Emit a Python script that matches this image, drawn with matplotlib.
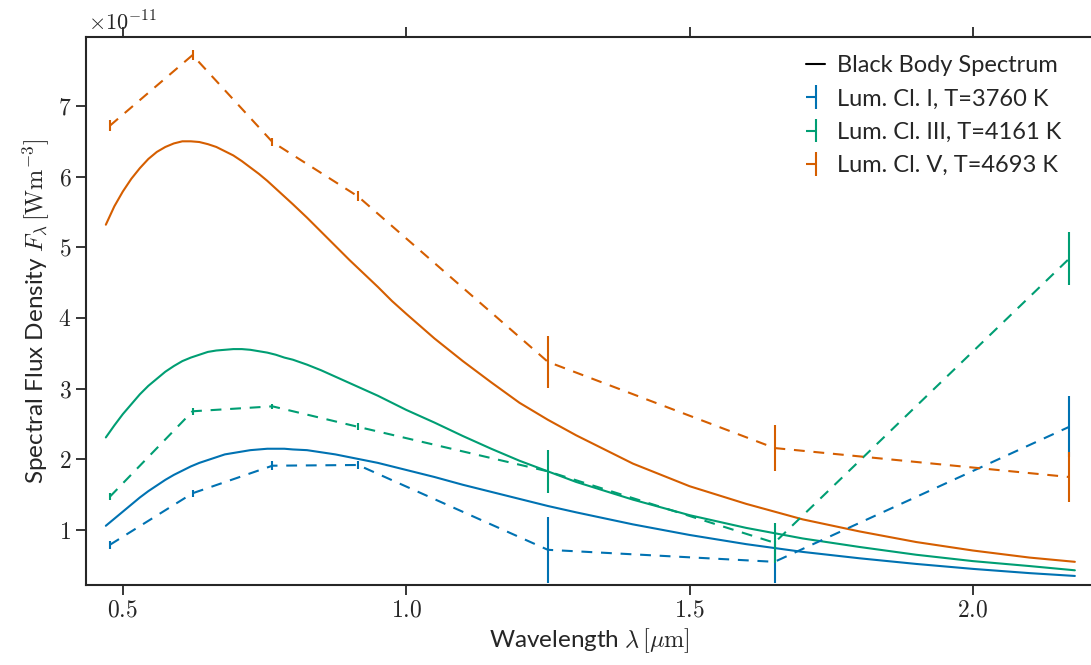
import matplotlib
matplotlib.use("Agg")
import matplotlib.pyplot as plt
import numpy as np
import seaborn as sns
from matplotlib.ticker import FuncFormatter, FixedLocator

# Photometric band centres [micron] and measured flux densities [1e-11 W m^-3]
bands = [0.477, 0.623, 0.764, 0.915, 1.25, 1.65, 2.17]

flux_I = [0.79, 1.52, 1.91, 1.92, 0.72, 0.55, 2.46]
err_I = [0.06, 0.05, 0.06, 0.05, 0.47, 0.30, 0.43]

flux_III = [1.47, 2.68, 2.75, 2.46, 1.83, 0.82, 4.84]
err_III = [0.05, 0.05, 0.04, 0.05, 0.30, 0.28, 0.38]

flux_V = [6.72, 7.72, 6.49, 5.72, 3.38, 2.16, 1.75]
err_V = [0.08, 0.07, 0.06, 0.07, 0.37, 0.32, 0.35]

# Black body curves sampled on a wavelength grid [micron]
wl = [0.470, 0.485, 0.500, 0.515, 0.530, 0.545, 0.560, 0.575, 0.590, 0.605,
      0.620, 0.635, 0.650, 0.665, 0.680, 0.695, 0.710, 0.725, 0.740, 0.755,
      0.770, 0.785, 0.800, 0.825, 0.850, 0.875, 0.900, 0.925, 0.950, 0.975,
      1.00, 1.05, 1.10, 1.15, 1.20, 1.25, 1.30, 1.40, 1.50, 1.60, 1.70, 1.80,
      1.90, 2.00, 2.10, 2.18]
bb_I = [1.06, 1.16, 1.26, 1.36, 1.46, 1.55, 1.63, 1.71, 1.78, 1.84,
        1.90, 1.95, 1.99, 2.03, 2.07, 2.09, 2.11, 2.13, 2.14, 2.15,
        2.15, 2.15, 2.14, 2.13, 2.10, 2.07, 2.03, 1.99, 1.95, 1.90,
        1.85, 1.75, 1.64, 1.54, 1.44, 1.34, 1.25, 1.08, 0.93, 0.80, 0.69, 0.60,
        0.52, 0.45, 0.39, 0.35]
bb_III = [2.31, 2.48, 2.64, 2.78, 2.92, 3.04, 3.14, 3.24, 3.32, 3.39,
          3.44, 3.48, 3.52, 3.54, 3.55, 3.56, 3.56, 3.55, 3.53, 3.51,
          3.48, 3.44, 3.41, 3.34, 3.26, 3.17, 3.08, 2.99, 2.90, 2.80,
          2.70, 2.52, 2.33, 2.15, 1.98, 1.83, 1.68, 1.43, 1.21, 1.03, 0.88, 0.76,
          0.65, 0.56, 0.49, 0.43]
bb_V = [5.32, 5.58, 5.79, 5.97, 6.12, 6.25, 6.35, 6.42, 6.47, 6.50,
        6.50, 6.49, 6.46, 6.42, 6.36, 6.30, 6.22, 6.13, 6.04, 5.94,
        5.83, 5.72, 5.61, 5.42, 5.22, 5.02, 4.82, 4.63, 4.44, 4.24,
        4.06, 3.71, 3.39, 3.09, 2.80, 2.56, 2.34, 1.94, 1.62, 1.37, 1.15, 0.98,
        0.83, 0.71, 0.61, 0.55]

labels = ["Lum. Cl. I, T=3760 K", "Lum. Cl. III, T=4161 K", "Lum. Cl. V, T=4693 K"]

sns.set_style("ticks")
plt.rcParams["font.family"] = ["Lato", "DejaVu Sans"]
plt.rcParams["mathtext.fontset"] = "cm"
for key in ["axes.edgecolor", "xtick.color", "ytick.color", "text.color", "axes.labelcolor"]:
    plt.rcParams[key] = "#262626"

colors = ["#0072B2", "#009E73", "#D55E00"]

fig = plt.figure(figsize=(10.91, 6.65), dpi=100)
ax = fig.add_axes([86 / 1091, 80 / 665, 1007 / 1091, 548 / 665])

ax.plot([], [], color="black", lw=1.5, label="Black Body Spectrum")
for bb, c in zip([bb_I, bb_III, bb_V], colors):
    ax.plot(wl, bb, color=c, lw=1.5)

for flux, err, c, lab in zip([flux_I, flux_III, flux_V], [err_I, err_III, err_V], colors, labels):
    eb = ax.errorbar(bands, flux, yerr=err, color=c, lw=1.5, elinewidth=1.5,
                     capsize=0, label=lab)
    eb[0].set_dashes((5.2, 4.2))

ax.set_xlim(0.435, 2.212)
ax.set_ylim(0.222, 7.976)
ax.xaxis.set_major_locator(FixedLocator([0.5, 1.0, 1.5, 2.0]))
ax.yaxis.set_major_locator(FixedLocator([1, 2, 3, 4, 5, 6, 7]))
ax.xaxis.set_major_formatter(FuncFormatter(lambda v, p: r"$%.1f$" % v))
ax.yaxis.set_major_formatter(FuncFormatter(lambda v, p: r"$%d$" % round(v)))
ax.tick_params(axis="both", which="major", labelsize=17, length=7, width=1.3,
               direction="out", top=True)
for s in ax.spines.values():
    s.set_linewidth(1.5)

ax.text(0.002, 1.004, r"$\times10^{-11}$", transform=ax.transAxes,
        ha="left", va="bottom", fontsize=16)

ax.set_xlabel(r"Wavelength $\lambda\,[\mu\mathrm{m}]$", fontsize=17.5)
ax.set_ylabel(r"Spectral Flux Density $F_\lambda\,[\mathrm{Wm^{-3}}]$", fontsize=17.5)

ax.legend(loc="upper left", bbox_to_anchor=(0.706, 0.984), borderaxespad=0,
          frameon=False, fontsize=17, handlelength=0.8, handletextpad=0.5,
          labelspacing=0.52)

fig.savefig("out.png", dpi=100)
